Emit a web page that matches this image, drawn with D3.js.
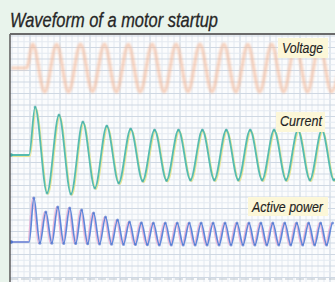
<!DOCTYPE html>
<html><head><meta charset="utf-8">
<script src="https://cdn.jsdelivr.net/npm/d3@7/dist/d3.min.js"></script>
<style>
html,body{margin:0;padding:0;background:#e9f4ec;}
svg{display:block;}
</style></head>
<body>
<script>
// ---- data (time in ms) ----
const voltageTime  = [-15,-2,3,13,23,33,43,53,63,73,83,93,103,113,123,133,143,153,163,173,183,193,203,213,223,233,243,253,263];
const voltageValue = [0,0,325,-325,320,-325,325,-320,325,-325,320,-325,325,-325,325,-320,325,-325,325,-325,320,-325,325,-325,325,-325,325,-325,325];

const currentTime  = [-15,0,5,15,25,35,45,55,65,75,85,95,105,115,125,135,145,155,165,175,185,195,205,215,225,235,245,255,265];
const currentValue = [0,0,96,-76,80,-78,66,-66,58,-56,52,-52,50,-51,50,-50,50,-50,50,-50,50,-50,50,-50,50,-50,50,-50,50];

const powerTime  = [-15,0,4,9,14,19,24,29,34,39,44,49,54,59,64,69,74,79,84,89,94,99,104,109,114,119,124,129,134,139,144,149,154,159,164,169,174,179,184,189,194,199,204,209,214,219,224,229,234,239,244,249,254,259,264];
const powerValue = [0,0,22,-0.6,15,-0.6,17.5,-0.7,17,-0.8,16,-0.9,14.5,-1,12.5,-1.1,11,-1.2,10,-1.3,9.6,-1.4,9.5,-1.5,9.5,-1.5,9.5,-1.5,9.5,-1.5,9.5,-1.5,9.5,-1.5,9.5,-1.5,9.5,-1.5,9.5,-1.5,9.5,-1.5,9.5,-1.5,9.5,-1.5,9.5,-1.5,9.5,-1.5,9.5,-1.5,9.5];

const titleText = "Waveform of a motor startup";
const seriesLabels = ["Voltage","Current","Active power"];

// ---- layout ----
const W = 335, H = 282;
const plot = {x:10, y:34, w:W-10, h:H-34};
const FONT = "'Liberation Sans Narrow','Arial Narrow','Liberation Sans',Arial,sans-serif";

const svg = d3.select("body").append("svg").attr("width",W).attr("height",H);

svg.append("rect").attr("width",W).attr("height",H).attr("fill","#e9f4ec");

const defs = svg.append("defs");
defs.append("clipPath").attr("id","clip").append("rect")
  .attr("x",plot.x).attr("y",plot.y).attr("width",plot.w).attr("height",plot.h);
defs.append("filter").attr("id","blur").append("feGaussianBlur").attr("stdDeviation",0.8);
defs.append("filter").attr("id","soft").append("feGaussianBlur").attr("stdDeviation",0.4);

// title
svg.append("text").attr("x",10).attr("y",27)
  .attr("font-family",FONT)
  .attr("font-style","italic").attr("font-size",20).attr("fill","#262626")
  .attr("stroke","#262626").attr("stroke-width",0.3)
  .attr("textLength",208).attr("lengthAdjust","spacingAndGlyphs")
  .text(titleText);

// plot background
svg.append("rect").attr("x",plot.x).attr("y",plot.y).attr("width",plot.w).attr("height",plot.h).attr("fill","#fbfcfd");

const g = svg.append("g").attr("clip-path","url(#clip)");

// grid (paper)
const minorX = d3.range(plot.x+2, W, 6);
const minorY = d3.range(plot.y+2, H, 5.75);
g.selectAll(".gx").data(minorX).join("line")
  .attr("x1",d=>d).attr("x2",d=>d).attr("y1",plot.y).attr("y2",H)
  .attr("stroke",(d,i)=> i%5===3 ? "#c6d1de" : "#e2e8f0").attr("stroke-width",1);
g.selectAll(".gy").data(minorY).join("line")
  .attr("y1",d=>d).attr("y2",d=>d).attr("x1",plot.x).attr("x2",W)
  .attr("stroke",(d,i)=> i%2===0 ? "#cfd8e3" : "#e4eaf1").attr("stroke-width",1);

// scales
const x = d3.scaleLinear().domain([-16,256]).range([10,335]);
const yV = d3.scaleLinear().domain([-325,325]).range([92,44]);
const yI = d3.scaleLinear().domain([-50,50]).range([180,130]);
const yP = d3.scaleLinear().domain([0,10]).range([242,222]);

const zipS = (t,v)=> t.map((d,i)=>({t:d,v:v[i]}));
const volt = zipS(voltageTime, voltageValue);
const curr = zipS(currentTime, currentValue);
const powr = zipS(powerTime, powerValue);

const mk = ys => d3.line().x(d=>x(d.t)).y(d=>ys(d.v)).curve(d3.curveMonotoneX);

// voltage
g.append("path").datum(volt).attr("d",mk(yV)).attr("fill","none")
  .attr("stroke","#f4b796").attr("stroke-width",3.2).attr("opacity",0.65)
  .attr("stroke-linejoin","round").attr("filter","url(#blur)");

// current
g.append("path").datum(curr).attr("d",mk(yI)).attr("fill","none")
  .attr("stroke","#e6e284").attr("stroke-width",1.5).attr("transform","translate(1,1.2)").attr("opacity",0.85);
g.append("path").datum(curr).attr("d",mk(yI)).attr("fill","none")
  .attr("stroke","#56bcb0").attr("stroke-width",1.8).attr("filter","url(#soft)");
g.selectAll(".cd").data(curr.slice(2)).join("circle")
  .attr("cx",d=>x(d.t)).attr("cy",d=>yI(d.v)).attr("r",1.5).attr("fill","#45aca3").attr("opacity",0.6);
g.append("circle").attr("cx",x(-15)).attr("cy",yI(0)).attr("r",1.8).attr("fill","#45aca3");

// power
g.append("path").datum(powr).attr("d",mk(yP)).attr("fill","none")
  .attr("stroke","#eaa9cf").attr("stroke-width",1.5).attr("transform","translate(-1.3,0)").attr("opacity",0.8);
g.append("path").datum(powr).attr("d",mk(yP)).attr("fill","none")
  .attr("stroke","#6187da").attr("stroke-width",1.7).attr("filter","url(#soft)");
g.selectAll(".pd").data(powr.slice(2)).join("circle")
  .attr("cx",d=>x(d.t)).attr("cy",d=>yP(d.v)).attr("r",1.5).attr("fill","#4f74cf").attr("opacity",0.65);
g.append("circle").attr("cx",x(-15)).attr("cy",yP(0)).attr("r",1.8).attr("fill","#4f74cf");

// bottom faint line
svg.append("line").attr("x1",plot.x).attr("x2",W).attr("y1",279).attr("y2",279)
  .attr("stroke","#b9c3cc").attr("stroke-width",1).attr("stroke-dasharray","8,3");

// frame: left and top
svg.append("line").attr("x1",plot.x).attr("x2",plot.x).attr("y1",plot.y).attr("y2",H)
  .attr("stroke","#5a5a5a").attr("stroke-width",1.5);
svg.append("line").attr("x1",plot.x).attr("x2",W).attr("y1",plot.y).attr("y2",plot.y)
  .attr("stroke","#6a6a6a").attr("stroke-width",2);

// labels
const labelBoxes = [
  {x:278, y:38, w:50, h:20, tx:282, tl:41, base:52.6},
  {x:276, y:112, w:49, h:20, tx:280, tl:42, base:126},
  {x:248, y:197, w:80, h:19, tx:252, tl:71, base:211.5}
];
seriesLabels.forEach((s,i)=>{
  const b = labelBoxes[i];
  svg.append("rect").attr("x",b.x).attr("y",b.y).attr("width",b.w).attr("height",b.h).attr("fill","#fcf7d8");
  svg.append("text").attr("x",b.tx).attr("y",b.base)
    .attr("font-family",FONT)
    .attr("font-style","italic").attr("font-size",14).attr("fill","#1e1e1e")
    .attr("stroke","#1e1e1e").attr("stroke-width",0.15)
    .attr("textLength",b.tl).attr("lengthAdjust","spacingAndGlyphs")
    .text(s);
});
</script>
</body></html>
